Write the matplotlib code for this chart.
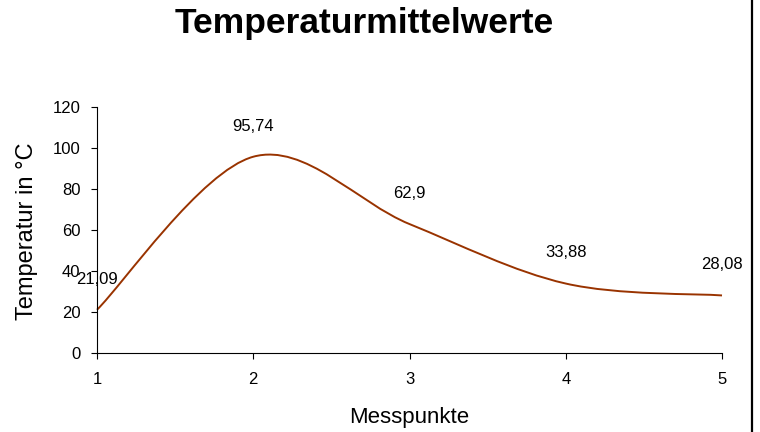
import matplotlib
matplotlib.use("Agg")
import matplotlib.pyplot as plt
from matplotlib.path import Path
from matplotlib.patches import PathPatch
from matplotlib.lines import Line2D

plt.rcParams['font.family'] = ['Liberation Sans', 'DejaVu Sans']

messpunkte = [1, 2, 3, 4, 5]
temperatur = [21.09, 95.74, 62.9, 33.88, 28.08]
labels = ["21,09", "95,74", "62,9", "33,88", "28,08"]
yticks = [0, 20, 40, 60, 80, 100, 120]

fig = plt.figure(figsize=(7.6, 4.32), dpi=100)
ax = fig.add_axes([97/760, 1 - 353/432, (722 - 97)/760, (353 - 107)/432])

# Excel-style smoothed line (cubic Bezier through the data points)
pts = list(zip(messpunkte, temperatur))
n = len(pts)
verts = [pts[0]]
codes = [Path.MOVETO]
for i in range(n - 1):
    p0 = pts[i - 1] if i > 0 else pts[i]
    p1 = pts[i]
    p2 = pts[i + 1]
    p3 = pts[i + 2] if i + 2 < n else pts[i + 1]
    c1 = (p1[0] + (p2[0] - p0[0]) / 6, p1[1] + (p2[1] - p0[1]) / 6)
    c2 = (p2[0] - (p3[0] - p1[0]) / 6, p2[1] - (p3[1] - p1[1]) / 6)
    verts += [c1, c2, p2]
    codes += [Path.CURVE4] * 3
patch = PathPatch(Path(verts, codes), facecolor='none', edgecolor='#993300', lw=1.4, clip_on=False)
ax.add_patch(patch)

for x, y, t in zip(messpunkte, temperatur, labels):
    ax.annotate(t, (x, y), xytext=(0, 22), textcoords='offset points',
                ha='center', va='center', fontsize=12, color='black')

ax.set_xlim(1, 5)
ax.set_ylim(0, 120)
ax.set_xticks(messpunkte)
ax.set_yticks(yticks)
ax.tick_params(axis='both', direction='out', length=4, width=0.8, labelsize=12, colors='black')
ax.tick_params(axis='y', pad=8)
ax.tick_params(axis='x', pad=10)
for s in ['top', 'right']:
    ax.spines[s].set_visible(False)
for s in ['left', 'bottom']:
    ax.spines[s].set_linewidth(0.8)
    ax.spines[s].set_color('black')

ax.set_xlabel("Messpunkte", fontsize=16, labelpad=14)
fig.text(27/760, 1 - 231/432, "Temperatur in °C", rotation=90, ha='center', va='center',
         fontsize=17)
fig.text(364/760, 1 - 24/432, "Temperaturmittelwerte", ha='center', va='center',
         fontsize=25.5, fontweight='bold')

fig.add_artist(Line2D([752/760, 752/760], [0, 1], transform=fig.transFigure, color='black', lw=1.6))

fig.savefig("out.png", dpi=100)
